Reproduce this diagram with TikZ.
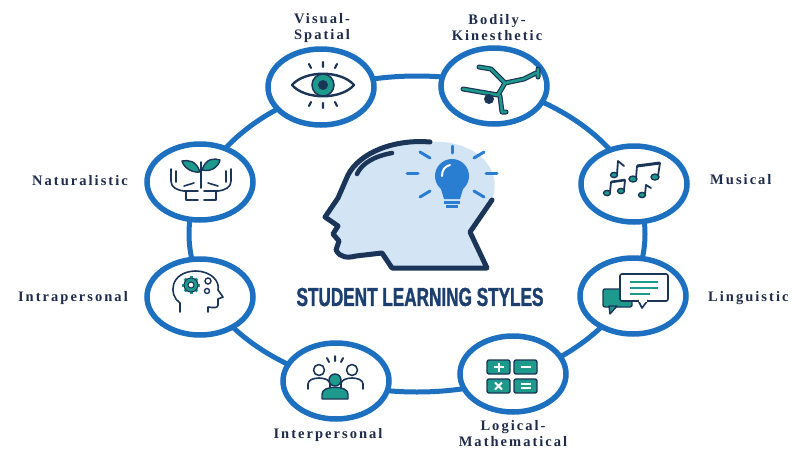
\documentclass[tikz,border=0pt]{standalone}
\usepackage{fontspec}
\setmainfont{Liberation Serif}
\newfontfamily\labfont[LetterSpace=14]{Liberation Serif}
\newfontfamily\titlefont[FakeStretch=0.66,FakeBold=1.2]{Liberation Sans}
\usetikzlibrary{shapes.geometric}

\definecolor{ringblue}{HTML}{1C70BF}
\definecolor{navy}{HTML}{1B3558}
\definecolor{labnavy}{HTML}{1E2B4A}
\definecolor{titlenavy}{HTML}{1C3F70}
\definecolor{iconteal}{HTML}{1E9A8C}
\definecolor{headfill}{HTML}{D3E4F4}
\definecolor{bulbblue}{HTML}{2A7ED2}

\tikzset{
  x=1pt, y=-1pt,
  ringline/.style={draw=ringblue, line width=5pt},
  bub/.style={ellipse, draw=ringblue, line width=5.5pt, fill=white,
              minimum width=106pt, minimum height=76pt, inner sep=0pt},
  lab/.style={font=\labfont\bfseries\fontsize{14.5}{16}\selectfont,
              text=labnavy, align=center, inner sep=0pt},
  ico/.style={draw=navy, line width=1.6pt, line cap=round, line join=round},
  tealico/.style={fill=iconteal, draw=navy, line width=1.4pt, line join=round},
  ray/.style={draw=bulbblue, line width=3pt, line cap=round},
  limbout/.style={draw=navy, line width=5pt, line cap=round, line join=round},
  limbin/.style={draw=iconteal, line width=2.6pt, line cap=round, line join=round},
}

\begin{document}
\begin{tikzpicture}
\useasboundingbox (0,0) rectangle (795,453);
\fill[white] (0,0) rectangle (795,453);

% the ring that links the eight styles
\draw[ringline] (417,234) ellipse [x radius=228, y radius=158];

% style bubbles
\node[bub] (vs) at (321,87)  {};
\node[bub] (bk) at (494,86)  {};
\node[bub] (mu) at (634,184) {};
\node[bub] (li) at (633,296) {};
\node[bub] (lm) at (513,374) {};
\node[bub] (ip) at (336,381) {};
\node[bub] (ia) at (200,297) {};
\node[bub] (na) at (200,182) {};

% labels
\node[lab] (vsl) at (322,28)  {Visual-\\Spatial};
\node[lab] (bkl) at (497,28)  {Bodily-\\Kinesthetic};
\node[lab, anchor=west] (mul) at (710,180) {Musical};
\node[lab, anchor=west] (lil) at (708,298) {Linguistic};
\node[lab] (lml) at (513,434) {Logical-\\Mathematical};
\node[lab] (ipl) at (328,435) {Interpersonal};
\node[lab, anchor=east] (ial) at (128,298) {Intrapersonal};
\node[lab, anchor=east] (nal) at (128,181) {Naturalistic};

% ---------- central head with light bulb ----------
\fill[headfill] (430,142) .. controls (395,139) and (360,152) .. (348,175)
  -- (338,198) -- (325,217) -- (338,226) -- (333,234) -- (339,241) -- (336,250)
  .. controls (340,258) and (348,258) .. (356,256) -- (382,253) -- (392,268)
  -- (487,268) -- (470,232) -- (492,200)
  .. controls (505,165) and (470,139) .. (430,142) -- cycle;
\draw[navy, line width=5pt, line join=round, line cap=round]
  (430,142) .. controls (395,139) and (360,152) .. (348,175)
  -- (338,198) -- (325,217) -- (338,226) -- (333,234) -- (339,241) -- (336,250)
  .. controls (340,258) and (348,258) .. (356,256) -- (382,253) -- (392,268)
  -- (487,268) -- (470,232) -- (492,200);
\draw[navy, line width=4.5pt, line cap=round] (392,153) .. controls (375,156) and (362,163) .. (357,174);
% bulb
\fill[bulbblue] (452,176) circle (17);
\fill[bulbblue] (440,186) -- (464,186) -- (460,199) -- (444,199) -- cycle;
\fill[bulbblue] (444,201) rectangle (460,204);
\fill[bulbblue] (446,205) rectangle (458,208);
\draw[white, line width=2pt, line cap=round] (442,176) .. controls (442,170) and (445,166) .. (450,165);
\draw[ray] (452,146) -- (452,153);
\draw[ray] (420,152) -- (430,158);
\draw[ray] (484,152) -- (474,158);
\draw[ray] (407,173) -- (418,173);
\draw[ray] (486,173) -- (497,173);
\draw[ray] (420,197) -- (430,191);
\draw[ray] (484,197) -- (474,191);
% title
\node[font=\titlefont\bfseries\fontsize{26}{26}\selectfont, text=titlenavy] (title) at (420,297) {STUDENT LEARNING STYLES};

% ---------- eye (Visual-Spatial) ----------
\draw[ico, line width=2.4pt, fill=white] (292,85) .. controls (305,70) and (341,70) .. (354,85)
  .. controls (341,100) and (305,100) .. (292,85) -- cycle;
\filldraw[fill=iconteal, draw=navy, line width=1.5pt] (323,85) circle (11);
\fill[navy] (323,85) circle (5);
\draw[ico, line width=2.2pt] (309,64) -- (311,68) (323,62) -- (323,67) (337,64) -- (335,68);
\draw[ico, line width=2.2pt] (309,106) -- (311,102) (323,108) -- (323,103) (337,106) -- (335,102);

% ---------- acrobat (Bodily-Kinesthetic) ----------
\draw[limbout] (505,83) -- (491,69) -- (479,67);
\draw[limbout] (505,83) -- (524,79) -- (536,73) (538,69) -- (538,77);
\draw[limbout] (505,83) -- (498,95) -- (463,89);
\draw[limbout] (500,96) -- (502,112) -- (506,112);
\draw[limbin] (505,83) -- (491,69) -- (479,67);
\draw[limbin] (505,83) -- (524,79) -- (536,73) (538,69) -- (538,77);
\draw[limbin] (505,83) -- (498,95) -- (463,89);
\draw[limbin] (500,96) -- (502,112) -- (506,112);
\fill[navy] (489,99) circle (5);

% ---------- music notes (Musical) ----------
\filldraw[tealico] (614,175) ellipse [x radius=3.5, y radius=2.6];
\draw[ico, line width=1.8pt] (617,174) -- (618,161) -- (624,166);
\filldraw[tealico] (633,179) ellipse [x radius=4, y radius=3];
\filldraw[tealico] (655,177) ellipse [x radius=4, y radius=3];
\draw[ico, line width=1.8pt] (636,178) -- (637,166) (658,176) -- (660,163);
\draw[navy, line width=3pt] (637,166) -- (660,163);
\filldraw[tealico] (607,193) ellipse [x radius=3.5, y radius=2.6];
\filldraw[tealico] (621,191) ellipse [x radius=3.5, y radius=2.6];
\draw[ico, line width=1.8pt] (610,192) -- (611,182) (624,190) -- (625,180);
\draw[navy, line width=2.6pt] (611,182) -- (625,180);
\filldraw[tealico] (642,195) ellipse [x radius=3.5, y radius=2.6];
\draw[ico, line width=1.8pt] (645,194) -- (646,185) -- (651,188);

% ---------- plant in cupped hands (Naturalistic) ----------
\draw[ico] (201,162) -- (201,188);
\filldraw[tealico] (200,172) .. controls (196,160) and (188,160) .. (182,161)
  .. controls (184,168) and (192,173) .. (200,172) -- cycle;
\filldraw[tealico] (202,170) .. controls (206,158) and (214,158) .. (220,160)
  .. controls (218,168) and (210,172) .. (202,170) -- cycle;
\draw[ico] (171,169) -- (171,181) .. controls (171,187) and (176,190) .. (184,191) -- (198,191)
  (176,171) -- (176,182) (184,186) -- (194,183)
  (186,191) -- (186,200) -- (198,200);
\begin{scope}[shift={(402,0)}, xscale=-1]
\draw[ico] (171,169) -- (171,181) .. controls (171,187) and (176,190) .. (184,191) -- (198,191)
  (176,171) -- (176,182) (184,186) -- (194,183)
  (186,191) -- (186,200) -- (198,200);
\end{scope}

% ---------- head with gears (Intrapersonal) ----------
\draw[ico] (180,312) -- (180,303) .. controls (168,295) and (170,272) .. (195,271)
  .. controls (212,271) and (220,282) .. (218,290) -- (223,297) -- (218,299) -- (218,305)
  .. controls (218,308) and (214,308) .. (208,307) -- (208,312);
\foreach \a in {0,45,...,315}
  \draw[iconteal, line width=3pt] (191,285) -- ++(\a:9);
\filldraw[fill=iconteal, draw=navy, line width=1pt] (191,285) circle (7);
\filldraw[fill=white, draw=navy, line width=1pt] (191,285) circle (3);
\draw[navy, line width=1.4pt] (208,281) circle (3) (207,291) circle (2.5);

% ---------- speech bubbles (Linguistic) ----------
\filldraw[tealico] (603,289) [rounded corners=2pt] rectangle (632,307);
\filldraw[tealico] (609,306) -- (610,314) -- (617,306) -- cycle;
\filldraw[fill=white, draw=navy, line width=1.6pt, rounded corners=2pt] (620,274) rectangle (668,301);
\filldraw[fill=white, draw=navy, line width=1.6pt, line join=round] (638,300) -- (642,308) -- (648,300);
\fill[white] (639,299) rectangle (647,301.5);
\draw[iconteal, line width=2pt] (630,282) -- (658,282) (630,288) -- (658,288) (630,294) -- (650,294);

% ---------- group of people (Interpersonal) ----------
\draw[ico, fill=white] (308,389) -- (308,384) .. controls (308,376) and (330,376) .. (330,384) -- (330,389);
\draw[ico, fill=white] (319,370) circle (5.5);
\draw[ico, fill=white] (341,389) -- (341,384) .. controls (341,376) and (363,376) .. (363,384) -- (363,389);
\draw[ico, fill=white] (352,370) circle (5.5);
\filldraw[tealico] (322,399) -- (322,394) .. controls (322,385) and (348,385) .. (348,394) -- (348,399) -- cycle;
\filldraw[tealico] (335,380) circle (6);
\draw[ico, line width=2pt] (327,358) -- (329,362) (335,356) -- (335,361) (343,358) -- (341,362);

% ---------- calculator keys (Logical-Mathematical) ----------
\filldraw[tealico, rounded corners=2pt] (487,360) rectangle (510,374);
\filldraw[tealico, rounded corners=2pt] (514,360) rectangle (537,374);
\filldraw[tealico, rounded corners=2pt] (487,379) rectangle (510,393);
\filldraw[tealico, rounded corners=2pt] (514,379) rectangle (537,393);
\draw[white, line width=2pt] (493.5,367) -- (503.5,367) (498.5,362.5) -- (498.5,371.5);
\draw[white, line width=2pt] (520.5,367) -- (530.5,367);
\draw[white, line width=2pt] (495,382.5) -- (502,389.5) (502,382.5) -- (495,389.5);
\draw[white, line width=1.8pt] (520.5,384) -- (530.5,384) (520.5,388) -- (530.5,388);
\end{tikzpicture}
\end{document}
